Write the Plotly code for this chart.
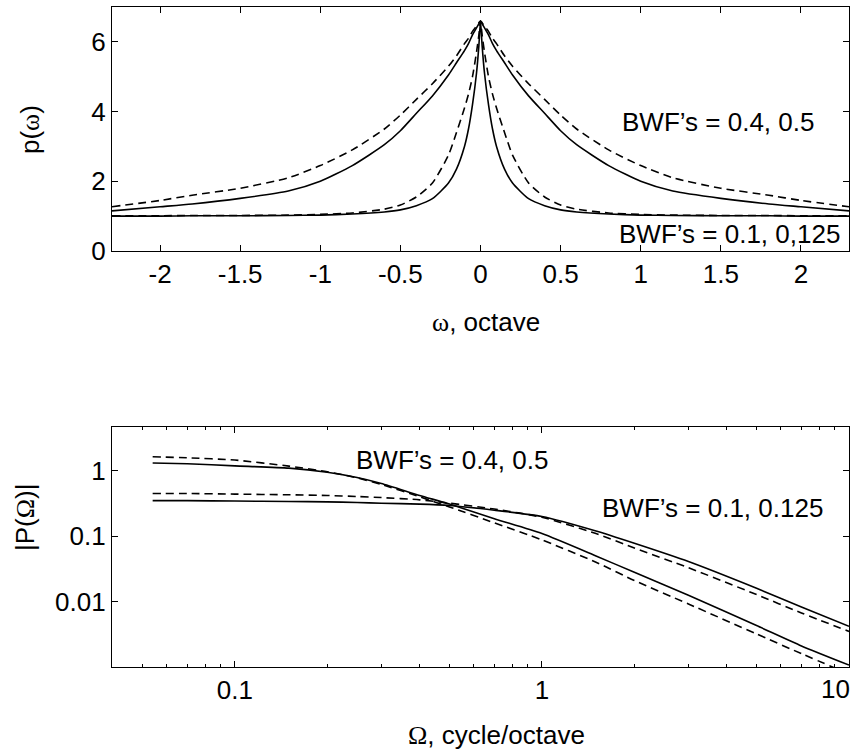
import plotly.graph_objects as go

# ---------- top panel data: p(omega) ----------
omega = [-2.3, -2.0, -1.8, -1.5, -1.2, -1.0, -0.8, -0.6, -0.5, -0.4, -0.3, -0.2, -0.15, -0.1, -0.075,
         -0.05, -0.025, -0.01, 0.0, 0.01, 0.025, 0.05, 0.075, 0.1, 0.15, 0.2, 0.3, 0.4, 0.5, 0.6,
         0.8, 1.0, 1.2, 1.5, 1.8, 2.0, 2.3]
p_bwf04 = [1.15, 1.27, 1.35, 1.51, 1.72, 2.0, 2.45, 3.05, 3.45, 3.95, 4.45, 5.05, 5.4, 5.75, 5.95,
           6.2, 6.4, 6.52, 6.6, 6.52, 6.4, 6.2, 5.95, 5.75, 5.4, 5.05, 4.45, 3.95, 3.45, 3.05,
           2.45, 2.0, 1.72, 1.51, 1.35, 1.27, 1.15]
p_bwf05 = [1.27, 1.45, 1.6, 1.8, 2.1, 2.45, 2.9, 3.5, 3.9, 4.35, 4.8, 5.3, 5.6, 5.95, 6.1,
           6.3, 6.45, 6.55, 6.6, 6.55, 6.45, 6.3, 6.1, 5.95, 5.6, 5.3, 4.8, 4.35, 3.9, 3.5,
           2.9, 2.45, 2.1, 1.8, 1.6, 1.45, 1.27]
p_bwf01 = [1.0, 1.0, 1.01, 1.01, 1.02, 1.03, 1.06, 1.12, 1.18, 1.3, 1.5, 1.95, 2.35, 3.0, 3.5,
           4.2, 5.1, 5.9, 6.6, 5.9, 5.1, 4.2, 3.5, 3.0, 2.35, 1.95, 1.5, 1.3, 1.18, 1.12,
           1.06, 1.03, 1.02, 1.01, 1.01, 1.0, 1.0]
p_bwf0125 = [1.01, 1.01, 1.02, 1.02, 1.03, 1.05, 1.09, 1.2, 1.32, 1.55, 1.95, 2.75, 3.4, 4.1, 4.5,
             5.0, 5.7, 6.2, 6.6, 6.2, 5.7, 5.0, 4.5, 4.1, 3.4, 2.75, 1.95, 1.55, 1.32, 1.2,
             1.09, 1.05, 1.03, 1.02, 1.02, 1.01, 1.01]

# ---------- bottom panel data: |P(Omega)| ----------
Omega = [0.054, 0.07, 0.1, 0.15, 0.2, 0.25, 0.3, 0.4, 0.5, 0.7, 1.0, 1.5, 2.0, 3.0, 5.0, 7.0, 10.0]
P_bwf04 = [1.32, 1.28, 1.19, 1.10, 0.95, 0.79, 0.64, 0.42, 0.31, 0.185, 0.11, 0.05, 0.028, 0.0125,
           0.0043, 0.0021, 0.00107]
P_bwf05 = [1.64, 1.58, 1.46, 1.18, 0.97, 0.78, 0.62, 0.40, 0.28, 0.16, 0.088, 0.04, 0.021, 0.0092,
           0.0032, 0.0016, 0.00078]
P_bwf01 = [0.35, 0.35, 0.345, 0.34, 0.335, 0.328, 0.32, 0.31, 0.295, 0.25, 0.2, 0.12, 0.078, 0.041,
           0.016, 0.0083, 0.0042]
P_bwf0125 = [0.45, 0.45, 0.44, 0.43, 0.42, 0.405, 0.39, 0.36, 0.32, 0.26, 0.195, 0.11, 0.066, 0.033,
             0.0128, 0.0067, 0.0035]

# ---------- tick labels ----------
top_xticks = [-2, -1.5, -1, -0.5, 0, 0.5, 1, 1.5, 2]
top_xtext = ["-2", "-1.5", "-1", "-0.5", "0", "0.5", "1", "1.5", "2"]
top_yticks = [0, 2, 4, 6]
top_ytext = ["0", "2", "4", "6"]
bot_xticks = [0.1, 1, 10]
bot_xtext = ["0.1", "1", "10"]
bot_xminor = [0.04, 0.05, 0.06, 0.07, 0.08, 0.09, 0.2, 0.3, 0.4, 0.5, 0.6, 0.7, 0.8, 0.9,
              2, 3, 4, 5, 6, 7, 8, 9]
bot_yticks = [0.01, 0.1, 1]
bot_ytext = ["0.01", "0.1", "1"]

SANS = "Liberation Sans, Arial, Helvetica, sans-serif"
FS = 26
LW = 1.6
DASH = "8px,5px"

W, H = 855, 752


def fx(px):
    return min(1.0, max(0.0, px / W))


def fy(py):
    return min(1.0, max(0.0, 1 - py / H))


fig = go.Figure()


def add(x, y, dashed, xa, ya):
    fig.add_trace(go.Scatter(
        x=x, y=y, mode="lines", xaxis=xa, yaxis=ya, showlegend=False,
        line=dict(color="black", width=LW, dash=DASH if dashed else "solid",
                  shape="spline", smoothing=0.6)))


add(omega, p_bwf04, False, "x", "y")
add(omega, p_bwf05, True, "x", "y")
add(omega, p_bwf01, False, "x", "y")
add(omega, p_bwf0125, True, "x", "y")

add(Omega, P_bwf04, False, "x2", "y2")
add(Omega, P_bwf05, True, "x2", "y2")
add(Omega, P_bwf01, False, "x2", "y2")
add(Omega, P_bwf0125, True, "x2", "y2")

axis_common = dict(showline=True, linecolor="black", linewidth=1.3, mirror="allticks",
                   ticks="inside", ticklen=6, tickwidth=1, tickcolor="black",
                   showgrid=False, zeroline=False, automargin=False,
                   tickfont=dict(family=SANS, size=FS, color="black"))

# the last tick label ("10") sits at the right edge of the page; it is drawn right-aligned
# at its tick position as an annotation so that it is not cut off
bot_xtext_axis = bot_xtext[:-1] + [""]

fig.update_layout(
    width=W, height=H,
    margin=dict(l=0, r=0, t=0, b=0),
    paper_bgcolor="white", plot_bgcolor="white",
    xaxis=dict(domain=[fx(112), fx(849)], anchor="y", range=[-2.3, 2.3],
               tickmode="array", tickvals=top_xticks, ticktext=top_xtext,
               **axis_common),
    yaxis=dict(domain=[fy(251), fy(7)], anchor="x", range=[0, 7],
               tickmode="array", tickvals=top_yticks, ticktext=top_ytext,
               **axis_common),
    xaxis2=dict(domain=[fx(112), fx(849)], anchor="y2", type="log", range=[-1.4, 1.0],
                tickmode="array", tickvals=bot_xticks, ticktext=bot_xtext_axis,
                minor=dict(tickmode="array", tickvals=bot_xminor, ticks="inside", ticklen=3,
                           tickcolor="black", showgrid=False),
                **axis_common),
    yaxis2=dict(domain=[fy(667), fy(427)], anchor="x2", type="log", range=[-3.0, 0.67],
                tickmode="array", tickvals=bot_yticks, ticktext=bot_ytext,
                **axis_common),
)

ann_font = dict(family=SANS, size=FS, color="black")
common_ann = dict(showarrow=False, font=ann_font, xanchor="center", yanchor="middle")
annotations = [
    dict(x=1.484, y=3.7, xref="x", yref="y", text="BWF\u2019s = 0.4, 0.5", **common_ann),
    dict(x=1.556, y=0.49, xref="x", yref="y", text="BWF\u2019s = 0.1, 0,125", **common_ann),
    dict(x=-0.294, y=0.163, xref="x2", yref="y2", text="BWF\u2019s = 0.4, 0.5", **common_ann),
    dict(x=0.556, y=-0.57, xref="x2", yref="y2", text="BWF\u2019s = 0.1, 0.125", **common_ann),
    dict(x=fx(486), y=fy(322), xref="paper", yref="paper", **common_ann,
         text="<span style=\"font-family:'Liberation Serif'\">\u03c9</span>, octave"),
    dict(x=fx(497), y=fy(735), xref="paper", yref="paper", **common_ann,
         text="<span style=\"font-family:'Liberation Serif'\">\u03a9</span>, cycle/octave"),
    dict(x=fx(30), y=fy(130), xref="paper", yref="paper", textangle=-90, **common_ann,
         text="p(<span style=\"font-family:'Liberation Serif'\">\u03c9</span>)"),
    dict(x=fx(25), y=fy(517), xref="paper", yref="paper", textangle=-90, **common_ann,
         text="|P(<span style=\"font-family:'Liberation Serif'\">\u03a9</span>)|"),
    dict(x=1.0, y=fy(689), xref="x2", yref="paper", showarrow=False, font=ann_font,
         xanchor="right", yanchor="middle", xshift=3, text=bot_xtext[-1]),
]
fig.update_layout(annotations=annotations)

fig.write_html("out.html",
               config={"displayModeBar": False},
               post_script="document.body.style.margin='0';document.body.style.overflow='hidden';")
